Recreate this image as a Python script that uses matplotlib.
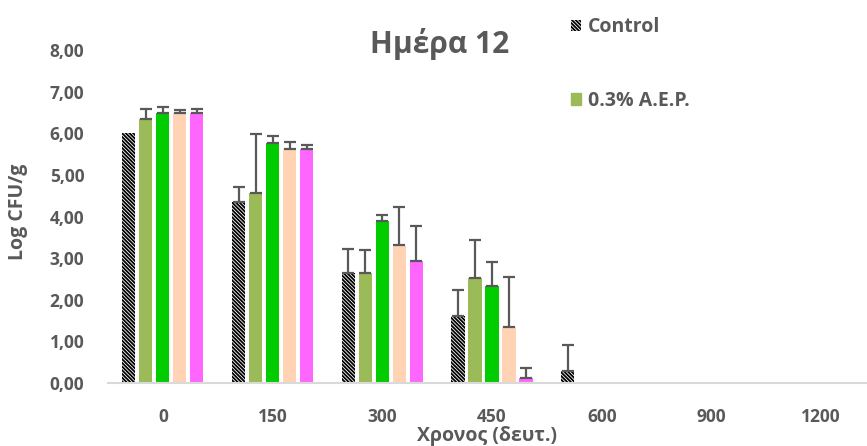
import matplotlib
matplotlib.use("Agg")
import matplotlib.pyplot as plt
import numpy as np
from matplotlib.patches import Patch

plt.rcParams['font.family'] = ['Open Sans', 'DejaVu Sans']
plt.rcParams['hatch.linewidth'] = 1.3

categories = ["0", "150", "300", "450", "600", "900", "1200"]
series_names = ["Control", "0.3% A.E.P.", "S3", "S4", "S5"]
control = [6.00, 4.36, 2.64, 1.62, 0.30, 0.00, 0.00]
aep03 = [6.35, 4.57, 2.64, 2.52, 0.00, 0.00, 0.00]
s3 = [6.49, 5.76, 3.88, 2.32, 0.00, 0.00, 0.00]
s4 = [6.49, 5.62, 3.32, 1.34, 0.00, 0.00, 0.00]
s5 = [6.49, 5.62, 2.92, 0.11, 0.00, 0.00, 0.00]
control_err = [0.00, 0.34, 0.59, 0.62, 0.61, 0, 0]
aep03_err = [0.24, 1.42, 0.56, 0.92, 0, 0, 0]
s3_err = [0.14, 0.17, 0.16, 0.58, 0, 0, 0]
s4_err = [0.07, 0.18, 0.92, 1.21, 0, 0, 0]
s5_err = [0.09, 0.10, 0.84, 0.24, 0, 0, 0]

values = [control, aep03, s3, s4, s5]
errors = [control_err, aep03_err, s3_err, s4_err, s5_err]
colors = ["white", "#9BBB59", "#00CC00", "#FFD3B4", "#FF66FF"]
hatch = "\\" * 9
hatches = [hatch, None, None, None, None]

fig = plt.figure(figsize=(8.67, 4.46), dpi=100)
ax = fig.add_axes([108/867, 63/446, 768/867, 333/446])

x = np.arange(len(categories))
pitch = 0.155
width = 0.12
txt = "#595959"
for i in range(5):
    pos = x + (i - 2) * pitch
    ax.bar(pos, values[i], width, color=colors[i], hatch=hatches[i],
           edgecolor="black" if i == 0 else colors[i], linewidth=0, zorder=2)
    e = np.array(errors[i])
    mask = e > 0
    ax.errorbar(pos[mask], np.array(values[i])[mask], yerr=[np.zeros(mask.sum()), e[mask]],
                fmt="none", ecolor=txt, elinewidth=1.6, capsize=4.5, capthick=1.6, zorder=3)

ax.set_xlim(-0.5, 6.5)
ax.set_ylim(0, 8)
ax.set_yticks(np.arange(0, 9, 1))
ax.set_yticklabels([f"{v:.2f}".replace(".", ",") for v in range(0, 9)])
ax.set_xticks(x)
ax.set_xticklabels(categories)
for s in ["top", "right", "left"]:
    ax.spines[s].set_visible(False)
ax.spines["bottom"].set_color("#D9D9D9")
ax.spines["bottom"].set_linewidth(1.5)
ax.tick_params(axis="both", length=0, colors=txt, labelsize=12.5)
ax.tick_params(axis="x", pad=18)
ax.tick_params(axis="y", pad=17)
for lab in ax.get_xticklabels() + ax.get_yticklabels():
    lab.set_fontweight("bold")

fig.text(18/867, 1 - 212/446, "Log CFU/g", ha="center", va="center", rotation=90,
         fontsize=14, fontweight="bold", color=txt)
fig.text(487/867, 1 - 436/446, "Χρονος (δευτ.)", ha="center", va="center",
         fontsize=14, fontweight="bold", color=txt)
fig.text(440/867, 1 - 44/446, "Ημέρα 12", ha="center", va="center",
         fontsize=21.5, fontweight="bold", color=txt)

handles = [Patch(facecolor="white", hatch=hatch, edgecolor="black", linewidth=0),
           Patch(facecolor=colors[1], edgecolor=colors[1])]
leg = fig.legend(handles, series_names[:2], loc="upper left",
                 bbox_to_anchor=(553/867, 1 - 0/446), frameon=False,
                 prop={"size": 14, "weight": "bold"}, labelcolor=txt,
                 handlelength=0.55, handleheight=0.55, handletextpad=0.35,
                 labelspacing=2.75)

fig.savefig("out.png", dpi=100)
